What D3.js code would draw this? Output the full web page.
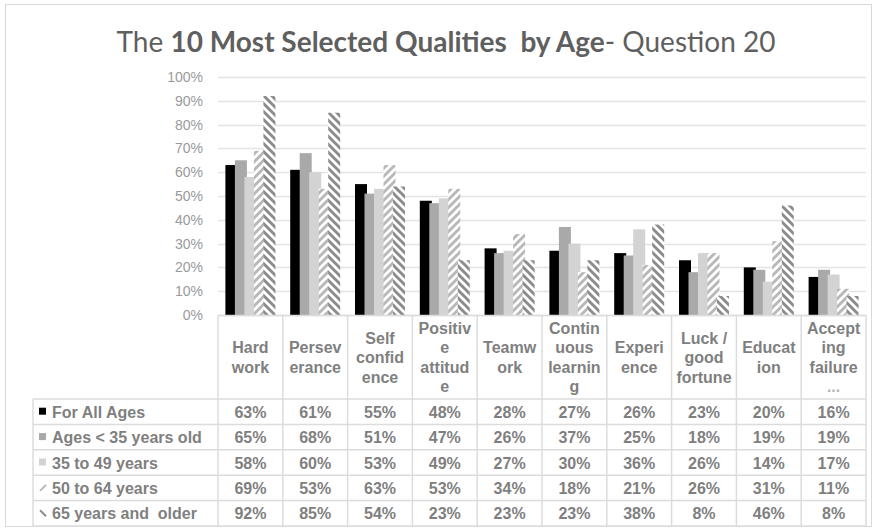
<!DOCTYPE html>
<html>
<head>
<meta charset="utf-8">
<script src="https://cdn.jsdelivr.net/npm/d3@7"></script>
<style>
  html, body { margin: 0; padding: 0; background: #fff; }
  svg text { white-space: pre; }
</style>
</head>
<body>
<svg id="chart" width="875" height="530"></svg>
<script>
// Qualities (column headers are wrapped the way the data table shows them)
const categories = ["Hard work", "Perseverance", "Self confidence", "Positive attitude", "Teamwork",
  "Continuous learning", "Experience", "Luck / good fortune", "Education", "Accepting failure"];
const headerLines = [["Hard", "work"], ["Persev", "erance"], ["Self", "confid", "ence"],
  ["Positiv", "e", "attitud", "e"], ["Teamw", "ork"], ["Contin", "uous", "learnin", "g"],
  ["Experi", "ence"], ["Luck /", "good", "fortune"], ["Educat", "ion"], ["Accept", "ing", "failure", "..."]];

// Share of respondents selecting each quality (%)
const seriesNames = ["For All Ages", "Ages < 35 years old", "35 to 49 years", "50 to 64 years", "65 years and  older"];
const forAllAges = [63, 61, 55, 48, 28, 27, 26, 23, 20, 16];
const agesUnder35 = [65, 68, 51, 47, 26, 37, 25, 18, 19, 19];
const ages35to49 = [58, 60, 53, 49, 27, 30, 36, 26, 14, 17];
const ages50to64 = [69, 53, 63, 53, 34, 18, 21, 26, 31, 11];
const ages65plus = [92, 85, 54, 23, 23, 23, 38, 8, 46, 8];
const yTicks = [0, 10, 20, 30, 40, 50, 60, 70, 80, 90, 100];

const seriesValues = [forAllAges, agesUnder35, ages35to49, ages50to64, ages65plus];

const svg = d3.select("#chart");
const defs = svg.append("defs");

// Wide diagonal hatch fills
function hatch(id, color, forward) {
  const p = defs.append("pattern").attr("id", id)
    .attr("patternUnits", "userSpaceOnUse").attr("width", 8).attr("height", 8);
  p.append("rect").attr("width", 8).attr("height", 8).attr("fill", "#fff");
  p.append("path")
    .attr("d", forward ? "M-2,2L2,-2M0,8L8,0M6,10L10,6" : "M-2,6L2,10M0,0L8,8M6,-2L10,2")
    .attr("stroke", color).attr("stroke-width", 2.9).attr("fill", "none");
}
hatch("hatchUp", "#b8b8b8", true);
hatch("hatchDown", "#8c8c8c", false);

const fills = ["#000000", "#a9a9a9", "#d3d3d3", "url(#hatchUp)", "url(#hatchDown)"];

// Outer frame
svg.append("rect").attr("x", 5.5).attr("y", 4.5).attr("width", 866).attr("height", 522)
  .attr("fill", "#fff").attr("stroke", "#d9d9d9");

// Title
const title = svg.append("text").attr("x", 446).attr("y", 52).attr("text-anchor", "middle")
  .attr("font-family", "Lato, 'Open Sans', sans-serif").attr("font-size", 28).attr("fill", "#5f5f5f");
title.append("tspan").text("The ");
title.append("tspan").attr("font-weight", "bold").text("10 Most Selected Qualities  by Age");
title.append("tspan").text("- Question 20");

// Scales
const x = d3.scaleBand().domain(categories).range([218, 866]).paddingInner(0).paddingOuter(0);
const y = d3.scaleLinear().domain([0, 100]).range([315, 77]);

// Gridlines
svg.append("g").selectAll("line").data(yTicks).join("line")
  .attr("x1", 218).attr("x2", 866)
  .attr("y1", d => Math.round(y(d)) + 0.5).attr("y2", d => Math.round(y(d)) + 0.5)
  .attr("stroke", "#e3e3e3").attr("stroke-width", 1.5);

// Y axis labels
const yAxis = d3.axisLeft(y).tickValues(yTicks).tickFormat(d => d + "%").tickSize(0).tickPadding(0);
const gy = svg.append("g").attr("transform", "translate(203,0)").call(yAxis);
gy.select(".domain").remove();
gy.selectAll("text").attr("font-family", "'Liberation Sans', Arial, sans-serif")
  .attr("font-size", 14).attr("fill", "#9a9a9a");

// Bars: overlapping clusters, later series drawn over earlier ones
const barW = 12, step = 9.5;
const groupW = barW + step * (seriesValues.length - 1);
const inner = d3.scaleLinear().domain([0, 1]).range([0, step]);
seriesValues.forEach((vals, si) => {
  svg.append("g").selectAll("rect").data(vals).join("rect")
    .attr("x", (d, i) => x(categories[i]) + (x.bandwidth() - groupW) / 2 + inner(si))
    .attr("y", d => y(d))
    .attr("width", barW)
    .attr("height", d => y(0) - y(d))
    .attr("fill", fills[si]);
});

// Data table
const tableTop = 315, headerBottom = 399, rowH = 25.4, legendLeft = 33, right = 866;
const lineColor = "#dcdcdc";
const tbl = svg.append("g");
const tFont = "'Liberation Sans', Arial, sans-serif";
const tColor = "#7f7f7f";

// Horizontal rules
const rowEdges = d3.range(seriesNames.length + 1).map(i => headerBottom + i * rowH);
tbl.selectAll("line.h").data(rowEdges).join("line").attr("class", "h")
  .attr("x1", legendLeft).attr("x2", right)
  .attr("y1", d => d).attr("y2", d => d).attr("stroke", lineColor).attr("stroke-width", 1.5);
tbl.append("line").attr("x1", 218).attr("x2", right).attr("y1", tableTop + 0.5).attr("y2", tableTop + 0.5)
  .attr("stroke", lineColor).attr("stroke-width", 1.5);

// Vertical rules
const colEdges = categories.map(c => x(c)).concat([x.range()[1]]);
tbl.selectAll("line.v").data(colEdges).join("line").attr("class", "v")
  .attr("x1", d => d).attr("x2", d => d).attr("y1", tableTop).attr("y2", rowEdges[rowEdges.length - 1])
  .attr("stroke", lineColor).attr("stroke-width", 1.5);
tbl.append("line").attr("x1", legendLeft).attr("x2", legendLeft)
  .attr("y1", headerBottom).attr("y2", rowEdges[rowEdges.length - 1])
  .attr("stroke", lineColor).attr("stroke-width", 1.5);

// Column headers
const lineGap = 19.5;
headerLines.forEach((lines, i) => {
  const cx = x(categories[i]) + x.bandwidth() / 2;
  const cy = (tableTop + headerBottom) / 2 + 6;
  const t = tbl.append("text").attr("text-anchor", "middle")
    .attr("font-family", tFont).attr("font-weight", "bold").attr("font-size", 16).attr("fill", tColor);
  lines.forEach((ln, k) => {
    t.append("tspan").attr("x", cx).attr("y", cy + (k - (lines.length - 1) / 2) * lineGap)
      .attr("fill", ln === "..." ? "#b5b5b5" : tColor).text(ln);
  });
});

// Rows: legend key, series name, values
seriesNames.forEach((name, si) => {
  const cy = rowEdges[si] + rowH / 2;
  if (si < 3) {
    tbl.append("rect").attr("x", 39).attr("y", cy - 4).attr("width", 7).attr("height", 7).attr("fill", fills[si]);
  } else {
    tbl.append("line").attr("x1", 40).attr("x2", 46)
      .attr("y1", si === 3 ? cy + 3 : cy - 3).attr("y2", si === 3 ? cy - 3 : cy + 3)
      .attr("stroke", si === 3 ? "#b8b8b8" : "#8c8c8c").attr("stroke-width", 2);
  }
  tbl.append("text").attr("x", 52).attr("y", cy + 6)
    .attr("font-family", tFont).attr("font-weight", "bold").attr("font-size", 16).attr("fill", tColor)
    .text(name);
  tbl.append("g").selectAll("text").data(seriesValues[si]).join("text")
    .attr("x", (d, i) => x(categories[i]) + x.bandwidth() / 2).attr("y", cy + 6)
    .attr("text-anchor", "middle")
    .attr("font-family", tFont).attr("font-weight", "bold").attr("font-size", 16).attr("fill", tColor)
    .text(d => d + "%");
});
</script>
</body>
</html>
